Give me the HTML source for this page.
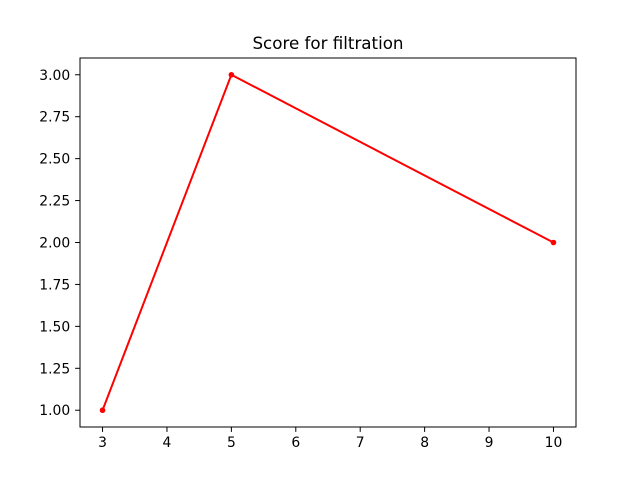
<!DOCTYPE html>
<html><head><meta charset="utf-8"><style>
body{margin:0;background:#fff;}
svg{display:block;font-family:"DejaVu Sans","Liberation Sans",sans-serif;}
</style></head><body>
<svg id="chart" width="640" height="480">
<rect width="640" height="480" fill="#fff"/>
<text x="328" y="49" text-anchor="middle" font-size="16.7">Score for filtration</text>
<g id="plot"></g>
<rect x="80" y="58" width="496" height="369" fill="none" stroke="#000" stroke-width="1"/>
</svg>
<script>
const xs = [3, 5, 10];
const ys = [1, 3, 2];
const xTicks = [3, 4, 5, 6, 7, 8, 9, 10];
const yTicks = [1.00, 1.25, 1.50, 1.75, 2.00, 2.25, 2.50, 2.75, 3.00];
const L=80,R=576,T=58,B=427;
const xmin=2.65,xmax=10.35,ymin=0.9,ymax=3.1;
const sx=v=>L+(v-xmin)/(xmax-xmin)*(R-L);
const sy=v=>B-(v-ymin)/(ymax-ymin)*(B-T);
const NS="http://www.w3.org/2000/svg";
const g=document.getElementById('plot');
function mk(t,a){const e=document.createElementNS(NS,t);for(const k in a)e.setAttribute(k,a[k]);g.appendChild(e);return e;}
xTicks.forEach(v=>{
  const l=mk('line',{x1:sx(v),x2:sx(v),y1:B,y2:B+4.9,stroke:'#000','stroke-width':1});
  
  
  const t=mk('text',{x:sx(v),y:B+20,'text-anchor':'middle','font-size':13.9});
  t.textContent=v;
  
  
});
yTicks.forEach(v=>{
  const l=mk('line',{x1:L-4.9,x2:L,y1:sy(v),y2:sy(v),stroke:'#000','stroke-width':1});
  
  
  const t=mk('text',{x:L-9.8,y:sy(v)+5,'text-anchor':'end','font-size':13.9});
  t.textContent=v.toFixed(2);
  
  
});
const p=mk('polyline',{points:xs.map((x,i)=>sx(x)+','+sy(ys[i])).join(' '),fill:'none',stroke:'#ff0000','stroke-width':2});


xs.forEach((x,i)=>{
  const c=mk('circle',{cx:sx(x),cy:sy(ys[i]),r:2.8,fill:'#ff0000'});
  
  
});
</script>
</body></html>
